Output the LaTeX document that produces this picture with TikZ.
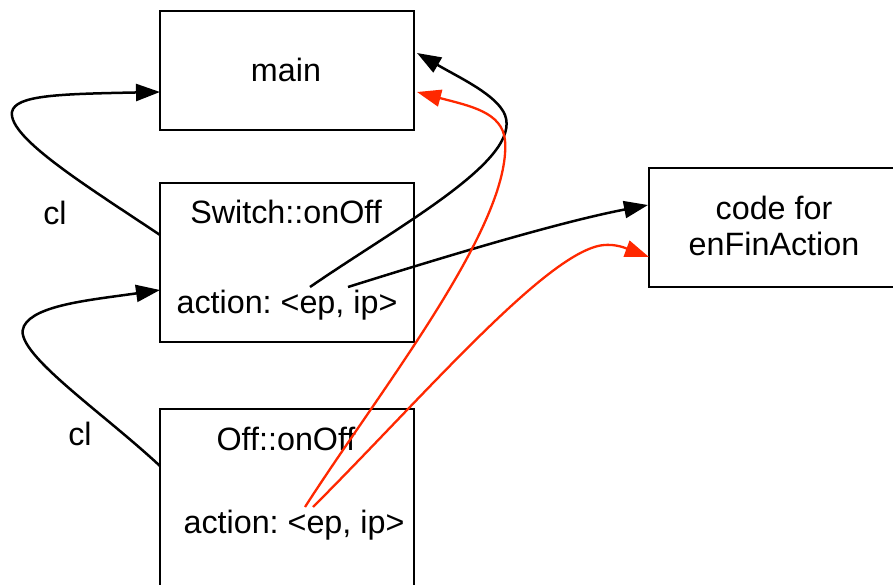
\documentclass[tikz,border=0pt]{standalone}
\usepackage{fontspec}
\setmainfont{Liberation Sans}
\usetikzlibrary{arrows.meta}
\definecolor{linkred}{RGB}{255,40,0}
\tikzset{
  box/.style={draw=black, line width=2pt, inner sep=0pt},
  label/.style={inner sep=0pt, font=\fontsize{32.3}{36}\selectfont\frenchspacing},
  conn/.style={line width=2.5pt, -{Triangle[length=24pt,width=17pt]}},
  redconn/.style={draw=linkred, line width=2.3pt, -{Triangle[length=24pt,width=17pt]}},
}
\begin{document}
\begin{tikzpicture}[x=1pt,y=-1pt]
\useasboundingbox (0,0) rectangle (893,585);
\clip (0,0) rectangle (893,585);

% frames
\node[box, minimum width=254pt, minimum height=119pt] (main) at (287,70.5) {};
\node[box, minimum width=254pt, minimum height=159pt] (sw) at (287,262.5) {};
\node[box, minimum width=254pt, minimum height=191pt] (off) at (287,504.5) {};
\node[box, minimum width=252pt, minimum height=119pt, anchor=north west] (code) at (648,167) {};

% texts
\node[label] (maintxt) at (286,70) {main};
\node[label] (swtitle) at (286,212) {Switch::onOff};
\node[label] (swact) at (287,305) {action: <ep, ip>};
\node[label] (offtitle) at (286,439) {Off::onOff};
\node[label] (offact) at (294,525) {action: <ep, ip>};
\node[label, align=center] (codetxt) at (774,226) {code for\\enFinAction};
\node[label] (cl1) at (55,213) {cl};
\node[label] (cl2) at (80,434) {cl};

% connector ends
\coordinate (swL) at (160,235);
\coordinate (mainL) at (160,92);
\coordinate (offL) at (160,466);
\coordinate (swLin) at (160,290);
\coordinate (swep) at (310,287);
\coordinate (swip) at (348,287);
\coordinate (mainR1) at (417,53);
\coordinate (mainR2) at (417,92);
\coordinate (codeL1) at (648,205);
\coordinate (codeL2) at (649,257);
\coordinate (offep) at (305,507);
\coordinate (offip) at (313,507);

% closure links
\draw[conn] (swL) .. controls (90,188) and (8,138) .. (12,112)
  .. controls (15,95) and (60,94) .. (mainL);
\draw[conn] (offL) .. controls (100,410) and (10,350) .. (24,326)
  .. controls (35,305) and (90,300) .. (swLin);

% black links from Switch::onOff
\draw[conn] (swep) .. controls (400,225) and (522,160) .. (505,115)
  .. controls (497,95) and (460,78) .. (mainR1);
\draw[conn] (swip) .. controls (450,255) and (560,222) .. (codeL1);

% red links from Off::onOff
\draw[redconn] (offep) .. controls (380,390) and (512,225) .. (505,140)
  .. controls (502,112) and (470,106) .. (mainR2);
\draw[redconn] (offip) .. controls (420,400) and (540,260) .. (598,246)
  .. controls (615,242) and (630,250) .. (codeL2);
\end{tikzpicture}
\end{document}
